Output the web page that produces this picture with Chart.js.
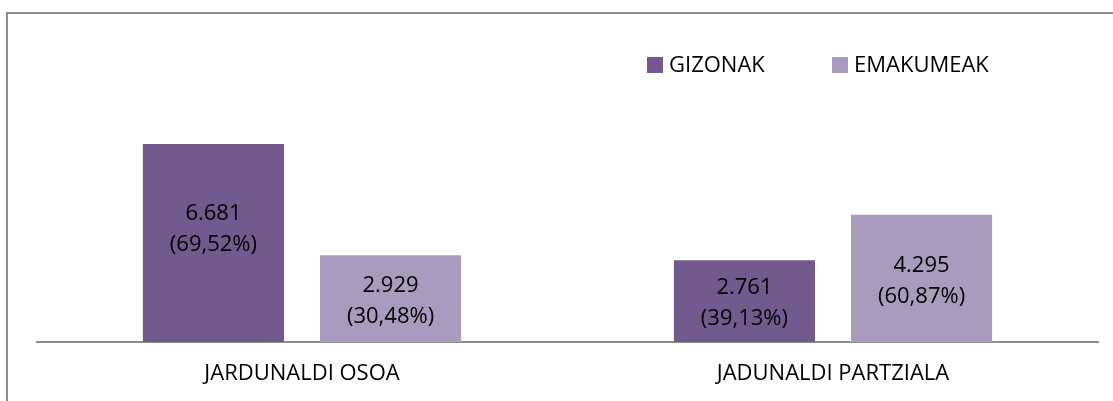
<!DOCTYPE html>
<html>
<head>
<meta charset="utf-8">
<script src="https://cdn.jsdelivr.net/npm/chart.js@4/dist/chart.umd.min.js"></script>
<style>
  html, body { margin: 0; padding: 0; background: #fff; overflow: hidden; }
  .wrap { position: relative; width: 1113px; height: 401px; }
  .frame {
    position: absolute; left: 6px; top: 12px; width: 1200px; height: 500px;
    border: 2px solid #8c8c8c; pointer-events: none;
  }
</style>
</head>
<body>
<div class="wrap">
  <canvas id="chart" width="1113" height="401"></canvas>
  <div class="frame"></div>
</div>
<script>
// data
const categories = ['JARDUNALDI OSOA', 'JADUNALDI PARTZIALA'];
const seriesNames = ['GIZONAK', 'EMAKUMEAK'];
const gizonak = [6681, 2761];
const emakumeak = [2929, 4295];
const gizonakPct = ['69,52%', '39,13%'];
const emakumeakPct = ['30,48%', '60,87%'];
const yMax = 8000;

const colors = ['#725a8f', '#a99bbd'];
const fontFamily = '"Open Sans", "Noto Sans", sans-serif';
const textColor = '#000000';

function fmt(v) {
    return String(v).replace(/\B(?=(\d{3})+(?!\d))/g, '.');
}

// two-line label inside each bar
const barLabels = {
    id: 'barLabels',
    afterDatasetsDraw(chart) {
        const ctx = chart.ctx;
        const pcts = [gizonakPct, emakumeakPct];
        ctx.save();
        ctx.font = '22px ' + fontFamily;
        ctx.fillStyle = textColor;
        ctx.textAlign = 'center';
        ctx.textBaseline = 'middle';
        chart.data.datasets.forEach((ds, di) => {
            chart.getDatasetMeta(di).data.forEach((bar, i) => {
                const mid = (bar.y + bar.base) / 2;
                const cy = Math.min(mid + 2, bar.y + 85);
                ctx.fillText(fmt(ds.data[i]), bar.x, cy - 15);
                ctx.fillText('(' + pcts[di][i] + ')', bar.x, cy + 16);
            });
        });
        ctx.restore();
    }
};

// legend in the upper right, like the original
const cornerLegend = {
    id: 'cornerLegend',
    afterDraw(chart) {
        const ctx = chart.ctx;
        const spots = [647, 832];
        ctx.save();
        ctx.font = '22px ' + fontFamily;
        ctx.textBaseline = 'middle';
        chart.data.datasets.forEach((ds, i) => {
            ctx.fillStyle = ds.backgroundColor;
            ctx.fillRect(spots[i], 57, 16, 16);
            ctx.fillStyle = textColor;
            ctx.fillText(ds.label, spots[i] + 22, 65.5);
        });
        ctx.restore();
    }
};

new Chart(document.getElementById('chart').getContext('2d'), {
    type: 'bar',
    data: {
        labels: categories,
        datasets: [
            { label: seriesNames[0], data: gizonak, backgroundColor: colors[0] },
            { label: seriesNames[1], data: emakumeak, backgroundColor: colors[1] }
        ]
    },
    options: {
        responsive: false,
        animation: false,
        events: [],
        categoryPercentage: 0.667,
        barPercentage: 0.797,
        layout: { padding: { left: 36.5, right: 14.5, top: 105, bottom: 15 } },
        plugins: {
            legend: { display: false },
            tooltip: { enabled: false }
        },
        scales: {
            x: {
                grid: { display: false, drawTicks: false },
                border: { display: true, color: '#8e8e8e', width: 2 },
                ticks: { color: textColor, padding: 19, font: { family: fontFamily, size: 22 } },
                afterFit(scale) { scale.height = 44; }
            },
            y: { display: false, min: 0, max: yMax }
        }
    },
    plugins: [barLabels, cornerLegend]
});
</script>
</body>
</html>
